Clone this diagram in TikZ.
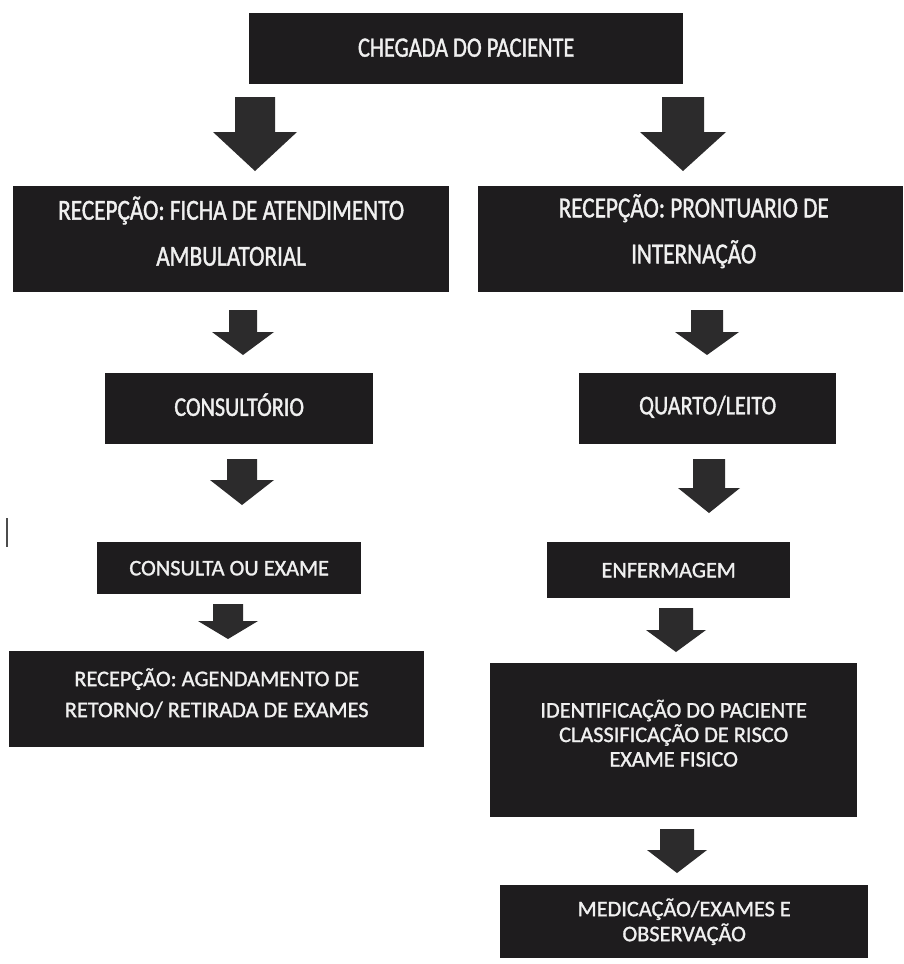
\documentclass[tikz,border=0pt]{standalone}
\usepackage{fontspec}
\setmainfont{Carlito}[RawFeature={embolden=1.3}]
\newfontfamily\condfont[FakeStretch=0.80,RawFeature={embolden=1.3}]{Carlito}
\newfontfamily\condfontb[FakeStretch=0.82,RawFeature={embolden=1.3}]{Carlito}
\definecolor{boxfill}{HTML}{1E1C1E}
\definecolor{arrfill}{HTML}{2C2B2C}
\definecolor{txt}{HTML}{F0F0F0}
\newcommand\blockarr[6]{%
  \fill[arrfill] (#1-#5,#2) -- (#1+#5,#2) -- (#1+#5,#3) -- (#1+#6,#3)
    -- (#1,#4) -- (#1-#6,#3) -- (#1-#5,#3) -- cycle;}
\tikzset{
  box/.style={rectangle, fill=boxfill, inner sep=0pt, anchor=north west},
  lbl/.style={text=txt, inner sep=0pt, align=center},
}
\begin{document}
\begin{tikzpicture}[x=1pt,y=-1pt]
\useasboundingbox[fill=white] (0,0) rectangle (903,964);
% boxes (placed by top-left corner)
\node[box, minimum width=434pt, minimum height=71pt] (chegada) at (249,13) {};
\node[box, minimum width=436pt, minimum height=106pt] (fichaamb) at (13,186) {};
\node[box, minimum width=425pt, minimum height=106pt] (prontuario) at (478,186) {};
\node[box, minimum width=268pt, minimum height=71pt] (consultorio) at (105,373) {};
\node[box, minimum width=257pt, minimum height=71pt] (quarto) at (579,373) {};
\node[box, minimum width=264pt, minimum height=52pt] (consulta) at (97,542) {};
\node[box, minimum width=243pt, minimum height=56pt] (enferm) at (547,542) {};
\node[box, minimum width=415pt, minimum height=96pt] (agenda) at (9,651) {};
\node[box, minimum width=367pt, minimum height=154pt] (ident) at (490,663) {};
\node[box, minimum width=368pt, minimum height=73pt] (medic) at (500,885) {};
% texts
\node[lbl, font=\fontsize{28}{34}\selectfont\condfont] (tchegada) at ([yshift=1pt]chegada.center) {CHEGADA DO PACIENTE};
\node[lbl, font=\fontsize{29}{46}\selectfont\condfont] (tfichaamb) at ([yshift=8pt]fichaamb.center) {RECEPÇÃO: FICHA DE ATENDIMENTO\\AMBULATORIAL};
\node[lbl, font=\fontsize{29}{46}\selectfont\condfont] (tprontuario) at ([xshift=3pt,yshift=8pt]prontuario.center) {RECEPÇÃO: PRONTUARIO DE\\INTERNAÇÃO};
\node[lbl, font=\fontsize{27}{32}\selectfont\condfontb] (tconsultorio) at ([yshift=4pt]consultorio.center) {CONSULTÓRIO};
\node[lbl, font=\fontsize{27}{32}\selectfont\condfontb] (tquarto) at ([yshift=2pt]quarto.center) {QUARTO/LEITO};
\node[lbl, font=\fontsize{22.3}{26}\selectfont] (tconsulta) at (consulta.center) {CONSULTA OU EXAME};
\node[lbl, font=\fontsize{22.3}{26}\selectfont] (tenferm) at (enferm.center) {ENFERMAGEM};
\node[lbl, font=\fontsize{22.3}{31}\selectfont] (tagenda) at ([yshift=6pt]agenda.center) {RECEPÇÃO: AGENDAMENTO DE\\RETORNO/ RETIRADA DE EXAMES};
\node[lbl, font=\fontsize{22.3}{24.5}\selectfont] (tident) at ([yshift=7pt]ident.center) {IDENTIFICAÇÃO DO PACIENTE\\CLASSIFICAÇÃO DE RISCO\\EXAME FISICO};
\node[lbl, font=\fontsize{22.3}{25}\selectfont] (tmedic) at (medic.center) {MEDICAÇÃO/EXAMES E\\OBSERVAÇÃO};
% block arrows: centre x, top y, head start y, tip y, shaft half width, head half width
\blockarr{255}{97}{132}{171}{20}{42}
\blockarr{683}{97}{132}{171}{21}{43}
\blockarr{243}{310}{332}{355}{14}{31}
\blockarr{707}{310}{332}{355}{16}{32}
\blockarr{242}{459}{480}{505}{15}{32}
\blockarr{709}{459}{488}{513}{16}{31}
\blockarr{228}{604}{621}{639}{15}{30}
\blockarr{676}{608}{630}{652}{17}{30}
\blockarr{677}{829}{850}{873}{17}{30}
% stray mark
\draw[line width=1.5pt, black!70] (7,518) -- (7,547);
\end{tikzpicture}
\end{document}
